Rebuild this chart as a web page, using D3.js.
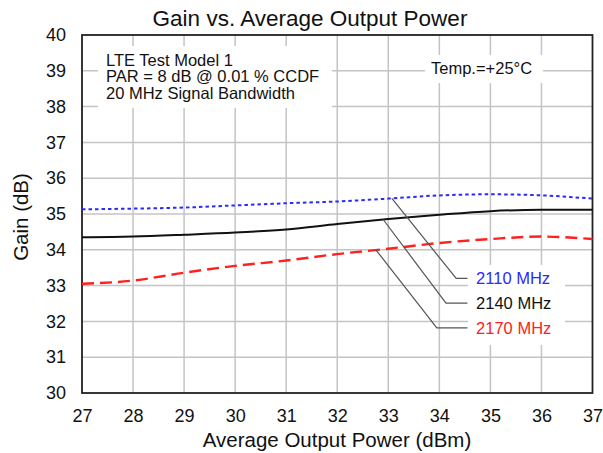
<!DOCTYPE html>
<html><head><meta charset="utf-8">
<script src="https://cdn.jsdelivr.net/npm/d3@7"></script>
<style>body{margin:0;background:#fff;} text{font-family:"Liberation Sans",Arial,sans-serif;}</style>
</head><body><svg id="c" width="603" height="453"></svg>
<script>
const power = [27,28,29,30,31,32,33,34,35,36,37];
const gain2110 = [35.13,35.15,35.18,35.24,35.30,35.35,35.43,35.52,35.55,35.52,35.43];
const gain2140 = [34.35,34.37,34.42,34.48,34.57,34.72,34.86,34.98,35.08,35.12,35.12];
const gain2170 = [33.05,33.14,33.36,33.55,33.70,33.88,34.03,34.19,34.30,34.37,34.30];
const seriesNames = ["2110 MHz","2140 MHz","2170 MHz"];
const seriesColors = ["#2a2aff","#111111","#ff2020"];
const xTicks = [27,28,29,30,31,32,33,34,35,36,37];
const yTicks = [30,31,32,33,34,35,36,37,38,39,40];
const noteLines = ["LTE Test Model 1","PAR = 8 dB @ 0.01 % CCDF","20 MHz Signal Bandwidth"];
const tempNote = "Temp.=+25°C";
// leader annotation anchors (data coords)
const leaderStartX = [33.07,32.9,32.76];
const leaderBendX = [34.33,34.13,33.95];
const leaderEndX = 34.55;
const labelX = 34.72;
const labelGain = [33.2,32.51,31.82];

const svg = d3.select("#c");
const m = {l:82,r:592.5,t:35,b:393};
const x = d3.scaleLinear().domain([27,37]).range([m.l,m.r]);
const y = d3.scaleLinear().domain([30,40]).range([m.b,m.t]);

// grid
const g = svg.append("g");
g.selectAll(".vx").data(xTicks.slice(1,-1)).join("line")
  .attr("x1",d=>x(d)).attr("x2",d=>x(d)).attr("y1",m.t).attr("y2",m.b)
  .attr("stroke","#c4c4c4").attr("stroke-width",1.5);
g.selectAll(".hy").data(yTicks.slice(1,-1)).join("line")
  .attr("y1",d=>y(d)).attr("y2",d=>y(d)).attr("x1",m.l).attr("x2",m.r)
  .attr("stroke","#c4c4c4").attr("stroke-width",1.5);

// white backgrounds for text
svg.append("rect").attr("x",98).attr("y",46).attr("width",234).attr("height",62).attr("fill","#fff");
svg.append("rect").attr("x",425).attr("y",55).attr("width",118).attr("height",28).attr("fill","#fff");
svg.append("rect").attr("x",468).attr("y",265).attr("width",97).attr("height",80).attr("fill","#fff");

// notes
svg.append("g").selectAll("text").data(noteLines).join("text")
  .attr("x",106).attr("y",(d,i)=>66+i*16.3).attr("font-size",16.5).attr("fill","#111").text(d=>d);
svg.append("text").attr("x",431).attr("y",73.5).attr("font-size",16.5).attr("fill","#111").text(tempNote);

// axes
const xAxis = d3.axisBottom(x).tickValues(xTicks).tickFormat(d3.format("d")).tickSize(0).tickPadding(16);
const ax = svg.append("g").attr("transform",`translate(0,${m.b})`).call(xAxis);
ax.select(".domain").remove();
ax.selectAll("text").attr("font-size",18).attr("fill","#111").style("font-family","Liberation Sans, Arial");
const yAxis = d3.axisLeft(y).tickValues(yTicks).tickFormat(d3.format("d")).tickSize(0).tickPadding(16);
const ay = svg.append("g").attr("transform",`translate(${m.l},0)`).call(yAxis);
ay.select(".domain").remove();
ay.selectAll("text").attr("font-size",18).attr("fill","#111").style("font-family","Liberation Sans, Arial");

// frame
svg.append("rect").attr("x",m.l).attr("y",m.t).attr("width",m.r-m.l).attr("height",m.b-m.t)
  .attr("fill","none").attr("stroke","#222").attr("stroke-width",1.8);

// lines
const all = [gain2110,gain2140,gain2170];
const dashes = ["3.5,3","none","12,6"];
const widths = [2,2,2.4];
const line = d3.line().x((d,i)=>x(power[i])).y(d=>y(d)).curve(d3.curveMonotoneX);
svg.append("g").selectAll("path").data(all).join("path")
  .attr("d",d=>line(d)).attr("fill","none")
  .attr("stroke",(d,i)=>seriesColors[i]).attr("stroke-width",(d,i)=>widths[i])
  .attr("stroke-dasharray",(d,i)=>dashes[i]);

// leaders
function interp(arr,xv){ return d3.scaleLinear().domain(power).range(arr)(xv); }
const lg = svg.append("g");
all.forEach((arr,i)=>{
  const pts = [[x(leaderStartX[i]),y(interp(arr,leaderStartX[i]))],[x(leaderBendX[i]),y(labelGain[i])],[x(leaderEndX),y(labelGain[i])]];
  lg.append("path").attr("d",d3.line()(pts)).attr("fill","none").attr("stroke","#555").attr("stroke-width",1.2);
  lg.append("text").attr("x",x(labelX)).attr("y",y(labelGain[i])).attr("dy","0.35em")
    .attr("font-size",16.5).attr("fill",seriesColors[i]).text(seriesNames[i]);
});

// titles
svg.append("text").attr("x",310).attr("y",26).attr("text-anchor","middle").attr("font-size",22.5).attr("fill","#111").text("Gain vs. Average Output Power");
svg.append("text").attr("x",337).attr("y",447).attr("text-anchor","middle").attr("font-size",20.5).attr("fill","#111").text("Average Output Power (dBm)");
svg.append("text").attr("transform","translate(28,217) rotate(-90)").attr("text-anchor","middle").attr("font-size",20.5).attr("fill","#111").text("Gain (dB)");
</script></body></html>
